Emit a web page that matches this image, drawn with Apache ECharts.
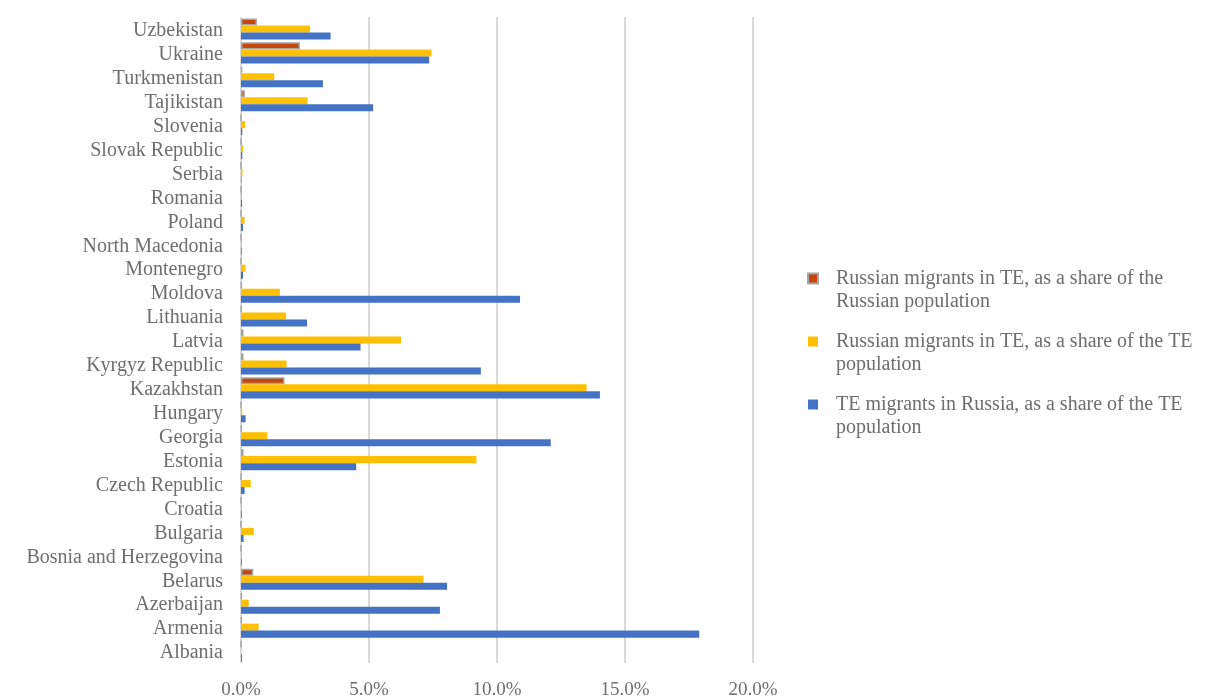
<!DOCTYPE html>
<html>
<head>
<meta charset="utf-8">
<script src="https://cdn.jsdelivr.net/npm/echarts@6/dist/echarts.min.js"></script>
<style>
  html, body { margin: 0; padding: 0; background: #fff; }
  #chart { width: 1219px; height: 696px; }
</style>
</head>
<body>
<div id="chart"></div>
<script>
// countries, bottom to top
const countries = [
  "Albania", "Armenia", "Azerbaijan", "Belarus", "Bosnia and Herzegovina",
  "Bulgaria", "Croatia", "Czech Republic", "Estonia", "Georgia", "Hungary",
  "Kazakhstan", "Kyrgyz Republic", "Latvia", "Lithuania", "Moldova",
  "Montenegro", "North Macedonia", "Poland", "Romania", "Serbia",
  "Slovak Republic", "Slovenia", "Tajikistan", "Turkmenistan", "Ukraine",
  "Uzbekistan"
];

// values in %
const ruShareOfRussia = [
  0.01, 0.03, 0.03, 0.48, 0.01,
  0.01, 0.01, 0.01, 0.1, 0.03, 0.01,
  1.7, 0.1, 0.1, 0.02, 0.03,
  0.01, 0.01, 0.01, 0.01, 0.01,
  0.01, 0.01, 0.15, 0.05, 2.3,
  0.62
];
const ruShareOfTE = [
  0, 0.69, 0.3, 7.13, 0.03,
  0.5, 0.04, 0.38, 9.2, 1.03, 0.05,
  13.5, 1.78, 6.25, 1.76, 1.52,
  0.18, 0.03, 0.14, 0.04, 0.06,
  0.08, 0.17, 2.6, 1.3, 7.44,
  2.7
];
const teShareOfTE = [
  0.04, 17.9, 7.77, 8.05, 0.03,
  0.1, 0.03, 0.14, 4.5, 12.1, 0.18,
  14.02, 9.37, 4.67, 2.58, 10.9,
  0.08, 0.03, 0.08, 0.04, 0.02,
  0.05, 0.05, 5.16, 3.2, 7.35,
  3.5
];

const seriesNames = [
  "Russian migrants in TE, as a share of the\nRussian population",
  "Russian migrants in TE, as a share of the TE\npopulation",
  "TE migrants in Russia, as a share of the TE\npopulation"
];

const xTicks = { min: 0, max: 20, interval: 5 };

const chart = echarts.init(document.getElementById("chart"));
const font = "'Liberation Serif', 'Times New Roman', serif";
const textGrey = "#6E6E6E";

chart.setOption({
  backgroundColor: "#fff",
  animation: false,
  grid: { left: 241, right: 466, top: 17, bottom: 33, outerBoundsMode: "none" },
  legend: {
    orient: "vertical",
    left: 802,
    top: 239,
    itemWidth: 10,
    itemHeight: 10,
    itemGap: -6,
    icon: "rect",
    // leading blank line so the marker sits beside the first text line
    formatter: (name) => "\n" + name,
    textStyle: {
      fontFamily: font,
      fontSize: 20,
      color: textGrey,
      lineHeight: 23,
      padding: [0, 0, 0, 13]
    },
    data: seriesNames
  },
  xAxis: {
    type: "value",
    min: xTicks.min,
    max: xTicks.max,
    interval: xTicks.interval,
    axisLine: { show: false },
    axisTick: { show: false },
    axisLabel: {
      margin: 18,
      fontFamily: font,
      fontSize: 19,
      color: textGrey,
      formatter: (v) => v.toFixed(1) + "%"
    },
    splitLine: { lineStyle: { color: "#D9D9D9", width: 2 } }
  },
  yAxis: {
    type: "category",
    data: countries,
    axisLine: { show: false },
    axisTick: { show: false },
    axisLabel: {
      margin: 18,
      fontFamily: font,
      fontSize: 20,
      color: textGrey,
      verticalAlign: "top",
      lineHeight: 4,
      interval: 0
    }
  },
  series: [
    {
      name: seriesNames[0],
      type: "bar",
      data: ruShareOfRussia,
      barGap: "0%",
      barCategoryGap: "12%",
      itemStyle: { color: "#C8450B", borderColor: "#A5A5A5", borderWidth: 1.5 }
    },
    {
      name: seriesNames[1],
      type: "bar",
      data: ruShareOfTE,
      itemStyle: { color: "#FFC000" }
    },
    {
      name: seriesNames[2],
      type: "bar",
      data: teShareOfTE,
      itemStyle: { color: "#4472C4" }
    }
  ]
});
</script>
</body>
</html>
